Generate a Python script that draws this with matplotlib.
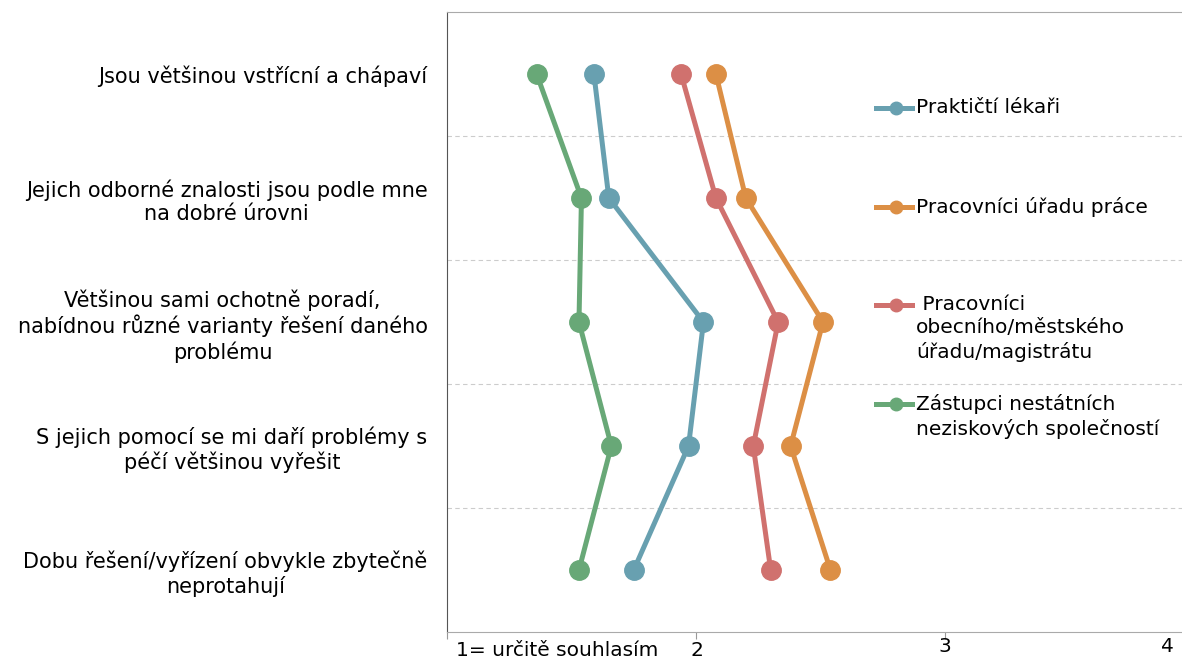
import matplotlib
matplotlib.use("Agg")
import matplotlib.pyplot as plt
from matplotlib.lines import Line2D

categories = [
    "Jsou většinou vstřícní a chápaví",
    "Jejich odborné znalosti jsou podle mne\nna dobré úrovni",
    "Většinou sami ochotně poradí,\nnabídnou různé varianty řešení daného\nproblému",
    "S jejich pomocí se mi daří problémy s\npéčí většinou vyřešit",
    "Dobu řešení/vyřízení obvykle zbytečně\nneprotahují",
]
series_names = [
    "Praktičtí lékaři",
    "Pracovníci úřadu práce",
    " Pracovníci\nobecního/městského\núřadu/magistrátu",
    "Zástupci nestátních\nneziskových společností",
]
prakticti = [1.59, 1.65, 2.03, 1.97, 1.75]
urad_prace = [2.08, 2.20, 2.51, 2.38, 2.54]
obecni = [1.94, 2.08, 2.33, 2.23, 2.30]
nestatni = [1.36, 1.54, 1.53, 1.66, 1.53]
x_tick_labels = ["1= určitě souhlasím", "2", "3", "4"]

colors = ["#68a0b0", "#dc8f45", "#d0716e", "#68a877"]
all_series = [prakticti, urad_prace, obecni, nestatni]

FS = 15
FS_LEG = 14.5
W, H = 1182, 661
fig = plt.figure(figsize=(W / 100, H / 100), dpi=100)
ax = fig.add_axes([447 / W, 1 - 632 / H, (W - 447) / W, (632 - 12) / H])

ypos = list(range(len(categories)))
for vals, c in zip(all_series, colors):
    ax.plot(vals, ypos, color=c, lw=3.6, marker="o", ms=14, zorder=3,
            solid_capstyle="round")

xmax = 1 + (W - 447) / 249.0
ax.set_xlim(1, xmax)
ax.set_ylim(len(categories) - 0.5, -0.5)

ax.set_yticks(ypos)
ax.set_yticklabels(categories, fontsize=FS, multialignment="center",
                   linespacing=1.22)
ax.tick_params(axis="y", length=0, pad=14)
ax.set_yticks([i + 0.5 for i in range(len(categories) - 1)], minor=True)
ax.tick_params(axis="y", which="minor", length=0)
ax.grid(axis="y", which="minor", color="#cccccc", ls=(0, (4, 3)), lw=0.8)

ax.set_xticks([1, 2, 3])
ax.set_xticklabels([])
ax.tick_params(axis="x", length=5, color="#999999")
ax.set_xticks([2, 3], minor=True)
ax.tick_params(axis="x", which="minor", length=0)
ax.grid(axis="x", which="minor", color="#cccccc", ls=(0, (4, 3)), lw=0.8)

ax.spines["right"].set_visible(False)
ax.spines["top"].set_color("#aaaaaa")
ax.spines["bottom"].set_color("#aaaaaa")
ax.spines["left"].set_color("#555555")

# x tick labels (placed as in the reference)
xl_pos = [(557, 651), (697, 651), (945, 646), (1167, 646)]
for lab, (px, py) in zip(x_tick_labels, xl_pos):
    fig.text(px / W, 1 - py / H, lab, ha="center", va="center", fontsize=FS_LEG)

# legend
leg_y = [108, 207, 305, 404]
for name, c, py in zip(series_names, colors, leg_y):
    fy = 1 - py / H
    fig.add_artist(Line2D([876 / W, 912 / W], [fy, fy], color=c, lw=3.6,
                          transform=fig.transFigure))
    fig.add_artist(Line2D([896 / W], [fy], color=c, marker="o", ms=9,
                          transform=fig.transFigure))
    fig.text(916 / W, 1 - (py - 10) / H, name, ha="left", va="top",
             fontsize=FS_LEG, linespacing=1.3)

fig.savefig("out.png", dpi=100)
